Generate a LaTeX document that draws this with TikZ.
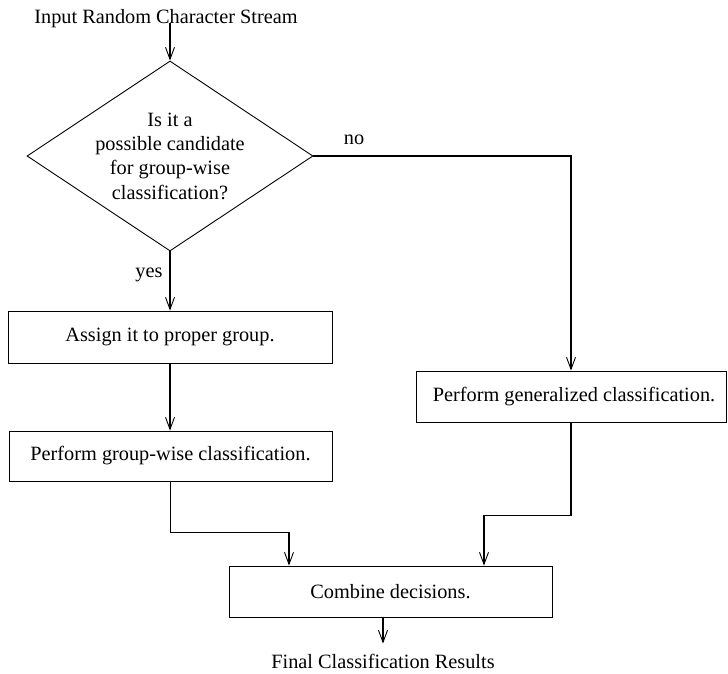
\documentclass[tikz,border=0pt]{standalone}
\usepackage{fontspec}
\setmainfont{Liberation Serif}
\usetikzlibrary{shapes.geometric,arrows.meta,calc}
\begin{document}
\begin{tikzpicture}[x=1pt,y=-1pt,
  every node/.style={font=\fontsize{20.3}{24.3}\selectfont},
  box/.style={draw,line width=0.9pt,rectangle,inner sep=0pt},
  decision/.style={draw,line width=0.9pt,diamond,aspect=1.505,inner sep=0pt,
    minimum width=286pt,minimum height=190pt,align=center},
  plain/.style={inner sep=1pt},
  arr/.style={line width=1.1pt,-{Straight Barb[length=12pt,width=9pt,line width=0.9pt]}},
  conn/.style={line width=1.1pt}]
\useasboundingbox (0,0) rectangle (728,673);

\node[plain,anchor=base] (in) at (166,23) {Input Random Character Stream};
\node[decision] (d) at (170,156) {Is it a\\possible candidate\\for group-wise\\classification?};
\node[box,minimum width=324pt,minimum height=52pt] (assign) at (170,337) {Assign it to proper group.};
\node[box,minimum width=323pt,minimum height=50pt] (pg) at (170.5,456) {Perform group-wise classification.};
\node[box,minimum width=310pt,minimum height=51pt] (gen) at (571,396.5) {\hspace*{6pt}Perform generalized classification.};
\node[box,minimum width=323pt,minimum height=51pt] (comb) at (390.5,591.5) {Combine decisions.};
\node[plain,anchor=base] (out) at (383,668) {Final Classification Results};

\node[plain] (nolbl) at (354,140) {no};
\node[plain] (yeslbl) at (149,275) {yes};

\draw[arr] (in.base -| d.north) -- (d.north);
\draw[arr] (d.south) -- (d.south |- assign.north);
\draw[arr] (assign.south) -- (assign.south |- pg.north);
\draw[arr] (d.east) -| (gen.north);
\draw[arr] (pg.south) -- ++(0,51) -| ([xshift=-101.5pt]comb.north);
\draw[arr] (gen.south) -- ++(0,93) -| ([xshift=93.5pt]comb.north);
\draw[arr] ([xshift=-7.5pt]comb.south) -- ([yshift=9pt]out.north);
\end{tikzpicture}
\end{document}
